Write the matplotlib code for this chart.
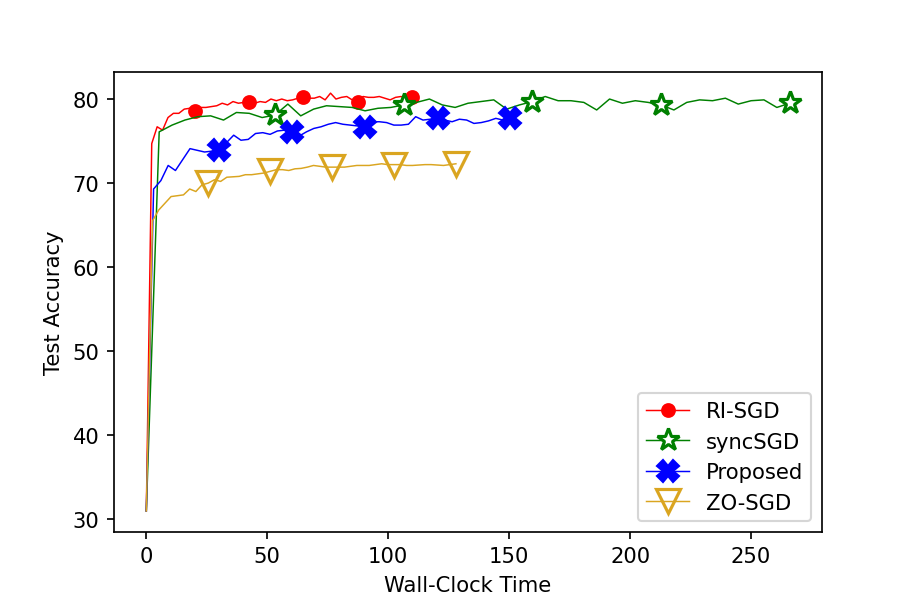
import numpy as np
import matplotlib
matplotlib.use("Agg")
import matplotlib.pyplot as plt

# accuracy curves (51 points each, first point at t=0)
ri_sgd = [31.0, 74.7, 76.7, 76.3, 77.8, 78.3, 78.3, 78.8, 78.9, 78.6,
          79.0, 79.0, 79.1, 79.2, 79.5, 79.3, 79.7, 79.5, 79.6, 79.7,
          79.5, 79.7, 79.6, 80.0, 79.8, 80.0, 79.8, 79.9, 80.1, 80.3,
          80.1, 80.1, 80.3, 79.9, 80.7, 80.0, 80.2, 80.3, 79.9, 79.7,
          80.3, 80.2, 80.2, 80.3, 80.1, 79.9, 80.2, 80.3, 80.1, 80.2,
          80.1]
sync_sgd = [31.0, 76.1, 76.9, 77.5, 77.9, 78.0, 77.5, 78.4, 78.3, 77.8,
            78.1, 79.4, 78.0, 78.8, 79.2, 79.1, 79.0, 78.6, 78.9, 79.0,
            79.3, 79.6, 80.0, 79.3, 79.0, 79.5, 79.7, 79.9, 78.8, 79.3,
            79.7, 80.3, 79.8, 79.8, 79.6, 78.7, 80.0, 79.5, 79.8, 79.6,
            79.3, 78.7, 79.6, 79.9, 79.8, 80.1, 79.4, 79.8, 79.9, 79.0,
            79.5]
proposed = [31.0, 69.3, 70.3, 72.1, 71.5, 72.8, 74.1, 73.9, 73.7, 73.8,
            73.9, 74.8, 75.7, 75.1, 75.2, 75.9, 76.0, 75.8, 76.2, 76.3,
            76.1, 75.6, 76.1, 76.5, 76.7, 77.0, 77.2, 77.0, 76.9, 76.8,
            76.7, 77.3, 77.3, 77.2, 76.9, 76.9, 77.0, 77.9, 77.5, 77.6,
            77.7, 77.5, 77.3, 77.6, 77.5, 77.1, 77.2, 77.4, 77.7, 77.5,
            77.7]
zo_sgd = [31.0, 65.5, 66.8, 67.6, 68.4, 68.5, 68.6, 69.3, 69.0, 69.8,
          70.0, 70.4, 70.2, 70.7, 70.75, 70.8, 71.0, 71.0, 71.1, 71.2,
          71.4, 71.6, 71.6, 71.5, 71.7, 71.75, 71.9, 72.1, 72.0, 71.9,
          71.9, 71.9, 71.9, 72.0, 72.1, 72.1, 72.1, 72.2, 72.3, 72.2,
          72.2, 72.2, 72.1, 72.1, 72.15, 72.2, 72.2, 72.15, 72.1, 72.2,
          72.3]

# total wall-clock time of each run
t_end = {'RI-SGD': 112.0, 'syncSGD': 266.0, 'Proposed': 150.5, 'ZO-SGD': 128.0}

def main():
    fig = plt.figure(figsize=(6, 4), dpi=152.2)
    ax = fig.add_subplot(111)
    fig.subplots_adjust(left=0.125, right=0.9, top=0.88, bottom=0.125)

    x = np.linspace(0, t_end['RI-SGD'], len(ri_sgd))
    ax.plot(x, ri_sgd, color='red', lw=0.7, marker='o', markersize=6,
            markevery=list(range(9, 51, 10)), label='RI-SGD')

    x = np.linspace(0, t_end['syncSGD'], len(sync_sgd))
    ax.plot(x, sync_sgd, color='green', lw=0.7, marker='*', markersize=11,
            markerfacecolor='white', markeredgewidth=1.5,
            markevery=list(range(10, 51, 10)), label='syncSGD')

    x = np.linspace(0, t_end['Proposed'], len(proposed))
    ax.plot(x, proposed, color='blue', lw=0.7, marker='X', markersize=10,
            markevery=list(range(10, 51, 10)), label='Proposed')

    x = np.linspace(0, t_end['ZO-SGD'], len(zo_sgd))
    ax.plot(x, zo_sgd, color='goldenrod', lw=0.7, marker='v', markersize=11,
            markerfacecolor='none', markeredgewidth=1.5,
            markevery=list(range(10, 51, 10)), label='ZO-SGD')

    ax.set_xlabel('Wall-Clock Time')
    ax.set_ylabel('Test Accuracy')
    ax.legend(loc='lower right')

    fig.savefig('out.png', dpi=152.2)

main()
